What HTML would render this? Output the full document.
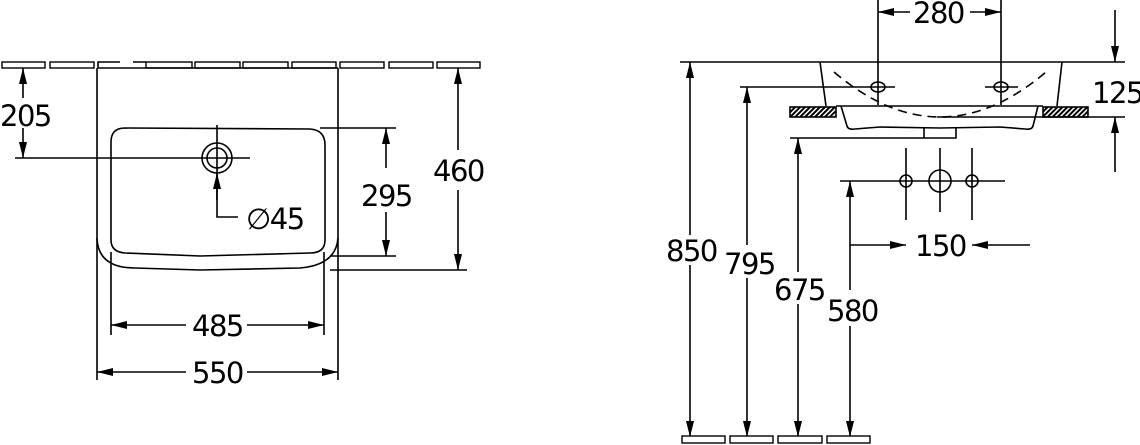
<!DOCTYPE html>
<html><head><style>
html,body{margin:0;padding:0;background:#fff;width:1140px;height:445px;overflow:hidden}
text{font-family:"DejaVu Sans","Liberation Sans",sans-serif;font-size:29px;letter-spacing:-1.5px;fill:#000}
</style></head><body>
<svg width="1140" height="445" viewBox="0 0 1140 445" xmlns="http://www.w3.org/2000/svg">
<defs>
<marker id="a" viewBox="0 0 16 8" refX="16" refY="4" markerWidth="16" markerHeight="8" orient="auto-start-reverse" markerUnits="userSpaceOnUse"><path d="M0,0 L16,4 L0,8z" fill="#000"/></marker>
<pattern id="h" width="3.5" height="3.5" patternUnits="userSpaceOnUse" patternTransform="rotate(45)"><rect width="2" height="3.5" fill="#000"/></pattern>
</defs>
<g stroke="#000" stroke-width="1.6" fill="none">
<g fill="#fff" stroke-width="1.4">
<rect x="2" y="62" width="43" height="6"/><rect x="50" y="62" width="44" height="6"/>
<rect x="146" y="62" width="46" height="6"/><rect x="195" y="62" width="45" height="6"/>
<rect x="243" y="62" width="45" height="6"/><rect x="292" y="62" width="44" height="6"/>
<rect x="340" y="62" width="44" height="6"/><rect x="389" y="62" width="44" height="6"/>
<rect x="437" y="62" width="43" height="6"/>
</g>
<path d="M98,68 V62 H120 M133,62 H146 M98,68 H338"/>
<path d="M97,68 V380 M338,68 V380"/>
<path d="M97,238 Q98,268 135,268 L200,270 L300,268 Q336,265 338,238"/>
<path d="M125,128 L310,129 Q325,130 325,145 V240 Q325,253 310,253 L200,256 L125,253 Q111,252 111,240 V142 Q111,128 125,128"/>
<path d="M111,252 V335 M324,252 V335"/>
<circle cx="217" cy="158" r="15"/><circle cx="217" cy="158" r="10"/>
<path d="M15,158 H250 M217,125 V168 M217,168 V217 H238"/>
<path d="M217,200 V173" marker-end="url(#a)"/>
<path d="M23,98 V68" marker-end="url(#a)"/><path d="M23,128 V158" marker-end="url(#a)"/>
<path d="M320,128 H396 M330,256 H396"/>
<path d="M386,168 V128" marker-end="url(#a)"/><path d="M386,212 V256" marker-end="url(#a)"/>
<path d="M330,270 H467"/>
<path d="M458,150 V68" marker-end="url(#a)"/><path d="M458,190 V270" marker-end="url(#a)"/>
<path d="M186,325 H111" marker-end="url(#a)"/><path d="M247,325 H324" marker-end="url(#a)"/>
<path d="M186,372 H97" marker-end="url(#a)"/><path d="M247,372 H338" marker-end="url(#a)"/>

<path d="M680,62 H1125"/>
<path d="M820,62 L826,106 M1062,62 L1057,106"/>
<path d="M834,72 Q940,162 1046,72" stroke-dasharray="9,6"/>
<path d="M836,106 H1043"/>
<rect x="790" y="107" width="46" height="10" fill="url(#h)"/>
<rect x="1043" y="107" width="45" height="10" fill="url(#h)"/>
<path d="M841,106 L847,126 Q848,130 855,129 L880,127 L940,128 L1000,127 L1025,129 Q1032,130 1033,126 L1038,106"/>
<path d="M924,128 V138 H956 V128 M790,138 H956"/>
<path d="M937,117 H1125"/>
<ellipse cx="878" cy="87" rx="7" ry="5"/><ellipse cx="1001" cy="87" rx="7" ry="5"/>
<path d="M740,87 H895 M985,87 H1018" />
<path d="M878,0 V105 M1001,0 V105"/>
<path d="M910,12 H878" marker-end="url(#a)"/><path d="M970,12 H1001" marker-end="url(#a)"/>
<path d="M1115,10 V62" marker-end="url(#a)"/><path d="M1115,172 V117" marker-end="url(#a)"/>
<circle cx="906" cy="181" r="6"/><circle cx="940" cy="181" r="11"/><circle cx="972" cy="181" r="6"/>
<path d="M840,181 H1005 M906,148 V220 M940,148 V212 M972,148 V220"/>
<path d="M850,245 H906" marker-end="url(#a)"/><path d="M1030,245 H972" marker-end="url(#a)"/>
<path d="M690,235 V62" marker-end="url(#a)"/><path d="M690,265 V437" marker-end="url(#a)"/>
<path d="M747,245 V87" marker-end="url(#a)"/><path d="M747,278 V437" marker-end="url(#a)"/>
<path d="M798,272 V138" marker-end="url(#a)"/><path d="M798,304 V437" marker-end="url(#a)"/>
<path d="M850,290 V181" marker-end="url(#a)"/><path d="M850,326 V437" marker-end="url(#a)"/>
<g fill="#fff" stroke-width="1.4">
<rect x="682" y="436" width="43" height="7"/><rect x="730" y="436" width="43" height="7"/>
<rect x="778" y="436" width="44" height="7"/><rect x="827" y="436" width="43" height="7"/>
</g>
</g>
<text x="0" y="126">205</text>
<text x="361" y="206">295</text>
<text x="433" y="181">460</text>
<text x="192" y="336">485</text>
<text x="192" y="383">550</text>
<text x="246" y="229">∅45</text>
<text x="913" y="23">280</text>
<text x="1092" y="103">125</text>
<text x="915" y="256">150</text>
<text x="666" y="261">850</text>
<text x="724" y="274">795</text>
<text x="774" y="300">675</text>
<text x="827" y="321">580</text>
</svg>
</body></html>
